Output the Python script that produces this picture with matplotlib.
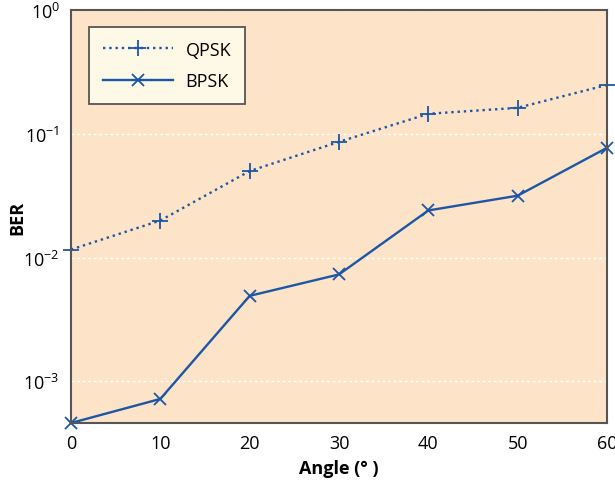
import numpy as np
import matplotlib
matplotlib.use('Agg')
import matplotlib.pyplot as plt

plt.rcParams['font.family'] = ['Open Sans', 'DejaVu Sans']
plt.rcParams['mathtext.fontset'] = 'custom'
plt.rcParams['mathtext.rm'] = 'Open Sans'
plt.rcParams['mathtext.it'] = 'Open Sans:italic'
plt.rcParams['mathtext.bf'] = 'Open Sans:bold'

angles = [0, 10, 20, 30, 40, 50, 60]
ber_qpsk = [0.0116, 0.0199, 0.050, 0.086, 0.145, 0.162, 0.248]
ber_bpsk = [4.6e-4, 7.2e-4, 0.0049, 0.0073, 0.024, 0.0316, 0.077]

blue = '#1c56a6'

fig = plt.figure(figsize=(6.15, 4.85), dpi=100)
ax = fig.add_axes([71 / 615, 1 - 424 / 485, (607 - 71) / 615, (424 - 11) / 485])
ax.set_facecolor('#fde3c8')

ax.plot(angles, ber_qpsk, linestyle=':', color=blue, lw=1.7, marker='+', ms=11, mew=1.3,
        label='QPSK', clip_on=False)
ax.plot(angles, ber_bpsk, linestyle='-', color=blue, lw=1.7, marker='x', ms=9, mew=1.3,
        label='BPSK', clip_on=False)

ax.set_yscale('log')
ax.set_xlim(0, 60)
ax.set_ylim(4.6e-4, 1)
ax.set_xticks(angles)
ax.set_yticks([1e-3, 1e-2, 1e-1, 1])
ax.minorticks_off()
ax.tick_params(length=0, labelsize=13, pad=8)
ax.yaxis.grid(True, color='white', linestyle=(0, (2, 2)), lw=1)
ax.set_axisbelow(True)
for s in ax.spines.values():
    s.set_color('#555555')
    s.set_linewidth(1.5)

ax.set_xlabel('Angle (° )', fontsize=13, fontweight='bold', labelpad=5)
ax.set_ylabel('BER', fontsize=13, fontweight='bold', labelpad=-2)

leg = ax.legend(loc='upper left', bbox_to_anchor=(18 / 536, (424 - 28) / 413), fontsize=13,
                fancybox=False, framealpha=1, handlelength=3.9, borderpad=0.75,
                labelspacing=0.75, borderaxespad=0, handletextpad=0.7)
leg.get_frame().set_facecolor('#fef8e6')
leg.get_frame().set_edgecolor('#555555')
leg.get_frame().set_linewidth(1.3)

fig.savefig('out.png', dpi=100)
